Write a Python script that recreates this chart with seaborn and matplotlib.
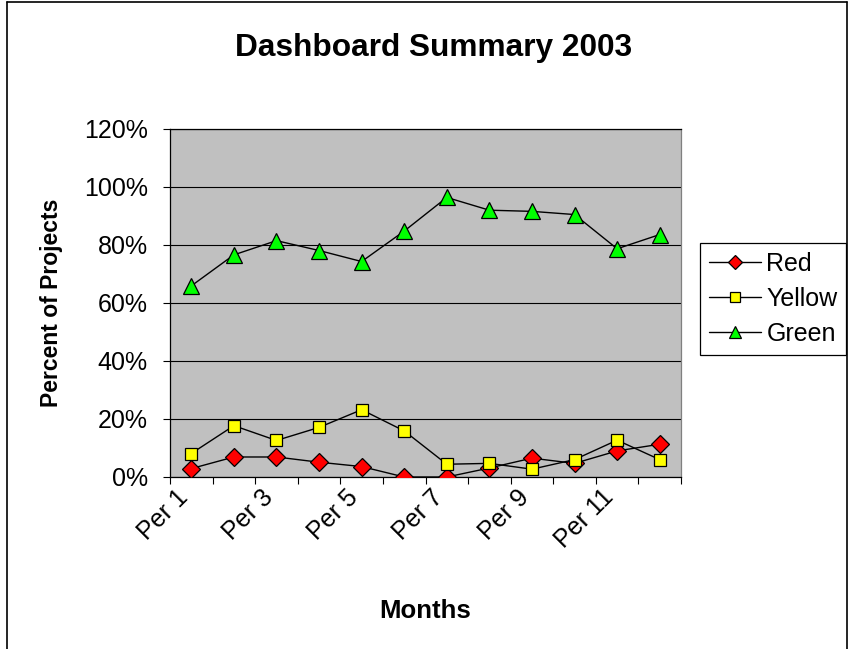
import numpy as np
import pandas as pd
import matplotlib
matplotlib.use("Agg")
import matplotlib.pyplot as plt
import matplotlib.transforms as mtransforms
from matplotlib.ticker import FixedLocator, PercentFormatter
from matplotlib.lines import Line2D
import seaborn as sns

# ==========================================
# Data (in %)
# ==========================================
periods = [f"Per {i}" for i in range(1, 13)]
red = [2.9, 6.9, 6.9, 5.1, 3.6, 0.0, 0.0, 3.1, 6.5, 4.7, 9.0, 11.3]
yellow = [8.1, 17.7, 12.6, 17.1, 23.2, 15.9, 4.4, 4.7, 2.7, 6.0, 12.7, 6.0]
green = [65.9, 76.6, 81.5, 78.1, 74.3, 84.8, 96.4, 92.0, 91.6, 90.5, 78.7, 83.6]

series_names = ["Red", "Yellow", "Green"]
face_colors = ["#FF0000", "#FFFF00", "#00FF00"]
marker_shapes = ["D", "s", "^"]
marker_sizes = [9, 9, 11]

y_ticks = [0, 20, 40, 60, 80, 100, 120]

df = pd.DataFrame({
    "period": periods * 3,
    "pos": list(range(len(periods))) * 3,
    "series": np.repeat(series_names, len(periods)),
    "pct": red + yellow + green,
})

# ==========================================
# Style
# ==========================================
sns.set_theme(style="white")
plt.rcParams["font.family"] = ["Liberation Sans", "DejaVu Sans"]
plt.rcParams["axes.unicode_minus"] = False

W, H = 848, 649
fig = plt.figure(figsize=(W / 100, H / 100), dpi=100)
fig.patch.set_facecolor("white")

# plot area in pixels: left 170, right 681, top 129, bottom 477
ax = fig.add_axes([170 / W, 1 - 477 / H, 511 / W, 348 / H])
ax.set_facecolor("#C0C0C0")

for name, fc, mk, ms in zip(series_names, face_colors, marker_shapes, marker_sizes):
    sub = df[df["series"] == name]
    sns.lineplot(data=sub, x="pos", y="pct", ax=ax, color="black", lw=1.0,
                 marker=mk, markersize=ms, markerfacecolor=fc,
                 markeredgecolor="black", markeredgewidth=0.9,
                 label=name, legend=False, zorder=3)

if ax.get_legend() is not None:
    ax.get_legend().remove()

# axes limits / ticks
ax.set_xlim(-0.5, len(periods) - 0.5)
ax.set_ylim(0, 120)
ax.set_yticks(y_ticks)
ax.yaxis.set_major_formatter(PercentFormatter(100, decimals=0))
ax.yaxis.grid(True, color="black", lw=0.8)
ax.xaxis.grid(False)
ax.set_axisbelow(True)

# category boundaries carry the tick marks, every other centre carries a label
ax.xaxis.set_major_locator(FixedLocator(np.arange(-0.5, len(periods), 1)))
ax.set_xticklabels([])
label_pos = list(range(0, len(periods), 2))
ax.xaxis.set_minor_locator(FixedLocator(label_pos))
ax.set_xticklabels([periods[i] for i in label_pos], minor=True)

ax.tick_params(axis="x", which="major", direction="out", length=5, width=0.8,
               color="black", bottom=True)
ax.tick_params(axis="x", which="minor", length=0, pad=12, labelsize=18,
               labelcolor="black")
ax.tick_params(axis="y", which="major", direction="out", length=5, width=0.8,
               color="black", left=True, pad=11, labelsize=18, labelcolor="black")

offset = mtransforms.ScaledTranslation(-7 / 100, 0, fig.dpi_scale_trans)
for lbl in ax.get_xticklabels(minor=True):
    lbl.set_rotation(45)
    lbl.set_ha("right")
    lbl.set_va("center")
    lbl.set_rotation_mode("anchor")
    lbl.set_transform(lbl.get_transform() + offset)

for side in ["left", "bottom"]:
    ax.spines[side].set_color("black")
    ax.spines[side].set_linewidth(0.9)
ax.spines["right"].set_color("#808080")
ax.spines["top"].set_color("black")
for side in ["right", "top"]:
    ax.spines[side].set_linewidth(0.9)

# labels
ax.set_xlabel("Months", fontsize=18.5, fontweight="bold", color="black")
ax.xaxis.set_label_coords(0.5, (477 - 611) / 348)
ax.xaxis.label.set_va("center")
ax.set_ylabel("Percent of Projects", fontsize=16.5, fontweight="bold", color="black")
ax.yaxis.set_label_coords((52 - 170) / 511, 0.5)
ax.yaxis.label.set_va("center")

fig.text(434 / W, 1 - 48 / H, "Dashboard Summary 2003", ha="center", va="center",
         fontsize=22.8, fontweight="bold", color="black")

# legend
handles, labels = ax.get_legend_handles_labels()
leg = fig.legend(handles, labels, loc="upper left",
                 bbox_to_anchor=(700 / W, 1 - 243 / H), borderaxespad=0,
                 fontsize=18, frameon=True, fancybox=False, edgecolor="black",
                 framealpha=1, handlelength=2.1, handletextpad=0.2,
                 labelspacing=0.45, borderpad=0.35, markerscale=0.8)
leg.get_frame().set_linewidth(0.9)
for t in leg.get_texts():
    t.set_color("black")

# chart-area border (left, top, right edges visible)
border_kw = dict(transform=fig.transFigure, color="black", lw=1.2)
fig.add_artist(Line2D([6.5 / W, 6.5 / W], [0, 1 - 1.5 / H], **border_kw))
fig.add_artist(Line2D([6.5 / W, 1 - 1 / W], [1 - 1.5 / H, 1 - 1.5 / H], **border_kw))
fig.add_artist(Line2D([1 - 1 / W, 1 - 1 / W], [0, 1 - 1.5 / H], **border_kw))

fig.savefig("out.png", dpi=100)
plt.close(fig)
